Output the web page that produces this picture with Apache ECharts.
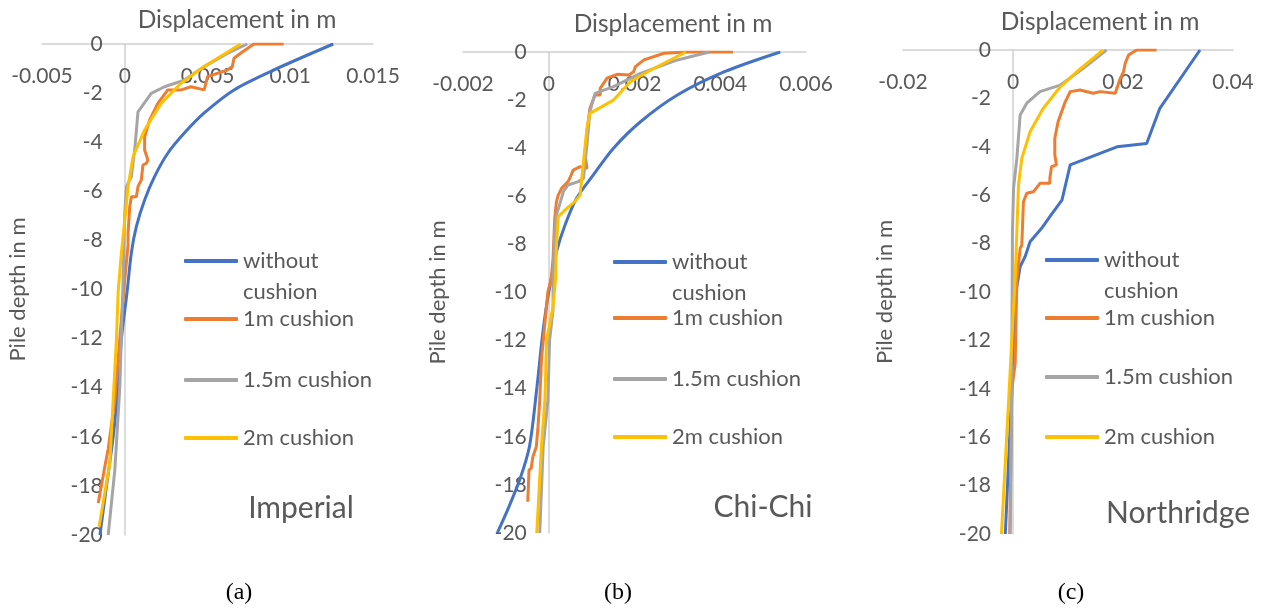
<!DOCTYPE html>
<html>
<head>
<meta charset="utf-8">
<script src="https://cdn.jsdelivr.net/npm/echarts@6/dist/echarts.min.js"></script>
<style>
  html, body { margin: 0; padding: 0; background: #fff; }
  #app { width: 1264px; height: 612px; }
</style>
</head>
<body>
<div id="app"></div>
<script>
// series names and colours (same in all three panels)
const seriesNames = ["without cushion", "1m cushion", "1.5m cushion", "2m cushion"];
const colors = ["#4472C4", "#ED7D31", "#A5A5A5", "#FFC000"];
const panelNames = ["Imperial", "Chi-Chi", "Northridge"];
const captions = ["(a)", "(b)", "(c)"];

// x axis (displacement in m) ranges
const xMin = [-0.005, -0.002, -0.02];
const xMax = [0.015, 0.006, 0.04];
const xStep = [0.005, 0.002, 0.02];

// [displacement m, depth m]
const impWithout = [[0.0126, 0], [0.0090, -1.06], [0.0066, -1.87], [0.0048, -2.81], [0.0036, -3.63], [0.0026, -4.45], [0.0018, -5.40], [0.0012, -6.35], [0.0007, -7.44], [0.0004, -8.5], [0.00014, -10.1], [-0.0002, -12], [-0.0004, -14], [-0.0007, -16], [-0.0011, -18], [-0.0015, -20]];
const imp1m = [[0.0096, 0], [0.0078, 0], [0.0070, -0.38], [0.0066, -0.58], [0.0065, -0.92], [0.0062, -1.06], [0.0050, -1.33], [0.0048, -1.87], [0.0040, -1.74], [0.0034, -1.87], [0.0026, -1.87], [0.0020, -2.42], [0.0015, -3.1], [0.0012, -3.78], [0.0012, -4.32], [0.0014, -4.73], [0.0013, -4.86], [0.0011, -4.93], [0.0010, -5.54], [0.0009, -5.67], [0.0008, -5.81], [0.0007, -6.22], [0.0004, -6.22], [0.0003, -6.63], [0.0002, -7.71], [0.0002, -8.19], [0, -9.6], [-0.0003, -12], [-0.0006, -14.5], [-0.0010, -16.5], [-0.0012, -17.2], [-0.0016, -18.7]];
const imp15m = [[0.0074, 0], [0.0062, -0.38], [0.0048, -0.92], [0.0036, -1.47], [0.0024, -1.74], [0.0016, -2.01], [0.0008, -2.76], [0.0006, -4.32], [0.0004, -5.4], [0.0001, -5.81], [0, -6.9], [-0.0001, -9.6], [-0.0003, -14], [-0.0006, -17.35], [-0.0010, -20]];
const imp2m = [[0.0070, 0], [0.0048, -0.92], [0.0034, -1.6], [0.0022, -2.42], [0.0012, -3.5], [0.0005, -4.59], [0.0002, -5.81], [0, -7.17], [-0.0002, -8.5], [-0.0004, -10.1], [-0.0005, -12], [-0.0007, -14.5], [-0.0009, -17.07], [-0.00155, -19.66]];

const chiWithout = [[0.0054, 0], [0.0041, -0.82], [0.0030, -1.79], [0.00214, -2.9], [0.00151, -4.0], [0.00104, -5.11], [0.00065, -6.08], [0.00038, -7.19], [0.00018, -8.3], [0.00006, -9.41], [-0.00005, -10.52], [-0.00016, -12], [-0.00028, -14], [-0.00045, -16.4], [-0.00068, -17.8], [-0.00096, -19.04], [-0.0012, -20]];
const chi1m = [[0.0043, 0], [0.00324, 0], [0.00269, -0.05], [0.00222, -0.33], [0.00202, -0.61], [0.00198, -0.82], [0.00187, -0.96], [0.00159, -0.93], [0.00136, -1.09], [0.0012, -1.51], [0.0012, -1.79], [0.00108, -1.79], [0.00096, -2.34], [0.00089, -3.31], [0.00085, -4.28], [0.00089, -4.84], [0.00073, -4.77], [0.00057, -4.91], [0.00049, -5.25], [0.00045, -5.39], [0.0003, -5.67], [0.00022, -5.95], [0.00018, -6.22], [0.00014, -6.91], [0.0001, -8.58], [0.00006, -9.41], [-0.00002, -9.97], [-0.00005, -10.52], [-0.00017, -12.8], [-0.00021, -14.47], [-0.00025, -15.58], [-0.00029, -16.41], [-0.00037, -16.83], [-0.00041, -17.31], [-0.00046, -17.38], [-0.00049, -18.7]];
const chi15m = [[0.00375, 0], [0.003, -0.33], [0.00214, -0.89], [0.00151, -1.44], [0.00108, -1.72], [0.00096, -2.48], [0.00089, -3.87], [0.00081, -5.25], [0.00069, -5.39], [0.00045, -5.53], [0.00034, -5.81], [0.00018, -6.78], [0.00014, -7.47], [0.0001, -9.41], [0.0001, -10.73], [0.00002, -11.98], [-0.00002, -14.47], [-0.00013, -16.41], [-0.00021, -20]];
const chi2m = [[0.0032, 0], [0.00238, -0.75], [0.00191, -1.23], [0.00151, -2.0], [0.00096, -2.55], [0.00089, -3.17], [0.00073, -5.95], [0.00061, -6.22], [0.00042, -6.5], [0.00022, -6.85], [0.00018, -8.03], [0.00016, -9.41], [0.0001, -10.59], [-0.00005, -11.98], [-0.00009, -14.47], [-0.00017, -16.41], [-0.00028, -20]];

const norWithout = [[0.034, 0], [0.0267, -2.41], [0.0243, -3.86], [0.0189, -4.0], [0.0104, -4.75], [0.0089, -6.2], [0.0067, -6.89], [0.0052, -7.37], [0.0031, -7.92], [0.0022, -8.54], [0.0013, -8.95], [0.0007, -9.78], [0.0005, -10.26], [0.0002, -12], [-0.0002, -14], [-0.0006, -16], [-0.001, -18], [-0.0014, -20]];
const nor1m = [[0.0261, 0], [0.0225, 0], [0.0210, -0.21], [0.0204, -0.55], [0.0201, -0.9], [0.0195, -1.17], [0.0189, -1.58], [0.0186, -1.79], [0.0158, -1.72], [0.0146, -1.79], [0.0122, -1.65], [0.0104, -1.72], [0.0095, -2.14], [0.0082, -2.96], [0.0076, -3.65], [0.0076, -4.34], [0.0079, -4.75], [0.0070, -4.82], [0.0067, -5.3], [0.0067, -5.51], [0.0049, -5.51], [0.0037, -5.86], [0.0025, -5.92], [0.0019, -6.27], [0.0016, -8.06], [0.0013, -8.2], [0.0010, -8.26], [0.0007, -9.5], [0.0004, -12.95], [-0.0002, -14], [-0.0006, -20]];
const nor15m = [[0.0170, 0], [0.0128, -0.76], [0.0086, -1.45], [0.0049, -1.72], [0.0025, -2.2], [0.0013, -2.69], [0.0007, -4.48], [0.0001, -5.71], [-0.0001, -7.51], [-0.0002, -12], [-0.0003, -16], [-0.0005, -20]];
const nor2m = [[0.0164, 0], [0.0116, -0.9], [0.0086, -1.52], [0.0055, -2.41], [0.0031, -3.38], [0.0016, -4.48], [0.0010, -5.58], [0.0007, -7.51], [0.0004, -9.43], [-0.0002, -11.91], [-0.0006, -13.64], [-0.0021, -20]];

const panelData = [
  [impWithout, imp1m, imp15m, imp2m],
  [chiWithout, chi1m, chi15m, chi2m],
  [norWithout, nor1m, nor15m, nor2m]
];

const FONT = 'Lato, "Open Sans", sans-serif';
const TEXT = "#595959";
const AXIS = "#D0D0D0";

// layout of the three panels
const grids = [
  { left: 42, top: 44, width: 331, height: 491, outerBoundsMode: "none", containLabel: false },
  { left: 463, top: 52, width: 343, height: 481, outerBoundsMode: "none", containLabel: false },
  { left: 903, top: 50, width: 330, height: 484, outerBoundsMode: "none", containLabel: false }
];
const yNameGap = [96, 100, 117];
const titlePos = [[237, 20], [673, 24], [1100, 22]];
const namePos = [[301, 508], [763, 507], [1178, 513]];
const capPos = [[239, 593], [618, 593], [1071, 593]];
const legendLeft = [184, 613, 1045];
const legendRows = [[261, 319, 380, 438], [262, 318, 379, 437], [260, 318, 377, 437]];

const myChart = echarts.init(document.getElementById("app"));

const xAxis = grids.map((g, i) => ({
  gridIndex: i,
  type: "value",
  position: "top",
  min: xMin[i],
  max: xMax[i],
  interval: xStep[i],
  axisLine: { onZero: false, lineStyle: { color: AXIS, width: 1.5 } },
  axisTick: { show: false },
  splitLine: { show: false },
  axisLabel: { inside: true, margin: 22, color: TEXT, fontSize: 21, fontFamily: FONT }
}));

// the depth axis sits at displacement 0: shift it into the grid by the zero position
const yAxis = grids.map((g, i) => ({
  gridIndex: i,
  type: "value",
  min: -20,
  max: 0,
  interval: 2,
  offset: -g.width * (0 - xMin[i]) / (xMax[i] - xMin[i]),
  name: "Pile depth in m",
  nameLocation: "middle",
  nameGap: yNameGap[i],
  nameMoveOverlap: false,
  nameTextStyle: { color: TEXT, fontSize: 22, fontFamily: FONT },
  axisLine: { onZero: false, lineStyle: { color: AXIS, width: 1.5 } },
  axisTick: { show: false },
  splitLine: { show: false },
  axisLabel: { margin: 22, color: TEXT, fontSize: 21, fontFamily: FONT }
}));

const series = [];
panelData.forEach((lines, i) => {
  lines.forEach((d, k) => {
    series.push({
      name: seriesNames[k],
      type: "line",
      xAxisIndex: i,
      yAxisIndex: i,
      data: d,
      symbol: "none",
      showSymbol: false,
      smooth: k === 0 && i < 2 ? 0.3 : false,
      lineStyle: { color: colors[k], width: 3 },
      itemStyle: { color: colors[k] },
      z: 2 + k
    });
  });
});

const legend = [];
legendRows.forEach((rows, i) => {
  rows.forEach((cy, k) => {
    legend.push({
      data: [seriesNames[k]],
      orient: "vertical",
      left: legendLeft[i],
      top: cy - (k === 0 ? 46.5 : 15.5),
      padding: 0,
      icon: "roundRect",
      itemWidth: 54,
      itemHeight: 4,
      formatter: k === 0 ? "\nwithout\ncushion" : "{name}",
      textStyle: { color: TEXT, fontSize: 22, fontFamily: FONT, lineHeight: 31 }
    });
  });
});

const graphic = [];
for (let i = 0; i < 3; i++) {
  graphic.push({
    type: "text", x: titlePos[i][0], y: titlePos[i][1],
    style: { text: "Displacement in m", fill: TEXT, font: "24.5px " + FONT, align: "center", verticalAlign: "middle", textAlign: "center", textVerticalAlign: "middle" }
  });
  graphic.push({
    type: "text", x: namePos[i][0], y: namePos[i][1],
    style: { text: panelNames[i], fill: TEXT, font: "30px " + FONT, align: "center", verticalAlign: "middle", textAlign: "center", textVerticalAlign: "middle" }
  });
  graphic.push({
    type: "text", x: capPos[i][0], y: capPos[i][1],
    style: { text: captions[i], fill: "#000", font: '24px "Liberation Serif", serif', align: "center", verticalAlign: "middle", textAlign: "center", textVerticalAlign: "middle" }
  });
}

myChart.setOption({
  animation: false,
  grid: grids,
  xAxis,
  yAxis,
  legend,
  series,
  graphic
});
</script>
</body>
</html>
